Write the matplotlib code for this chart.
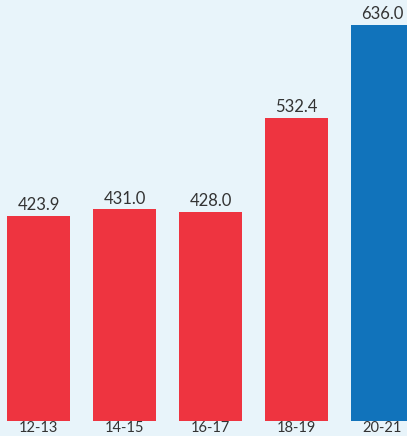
import matplotlib.pyplot as plt

years = ["12-13", "14-15", "16-17", "18-19", "20-21"]
values = [423.9, 431.0, 428.0, 532.4, 636.0]
colors = ["#ee3440", "#ee3440", "#ee3440", "#ee3440", "#1173bb"]

bg = "#e8f4fa"
text_color = "#333333"

plt.rcParams["font.family"] = ["Lato", "DejaVu Sans"]

fig = plt.figure(figsize=(4.07, 4.36), dpi=100, facecolor=bg)
ax = fig.add_axes([0, 15 / 436, 1, 421 / 436])
ax.set_facecolor(bg)

x = range(len(years))
ax.bar(x, values, width=0.735, color=colors)

for xi, v in zip(x, values):
    ax.annotate(f"{v:.1f}", (xi, v), xytext=(0, 2), textcoords="offset points",
                ha="center", va="bottom", fontsize=12, color=text_color)

ax.set_xlim(-0.448, 4.285)
ax.set_ylim(196, 663.7)
ax.set_xticks(list(x))
ax.set_xticklabels(years, fontsize=10.5, color=text_color)
ax.tick_params(axis="x", length=0, pad=0)
ax.set_yticks([])
for s in ax.spines.values():
    s.set_visible(False)

fig.savefig("out.png", dpi=100, facecolor=bg)
